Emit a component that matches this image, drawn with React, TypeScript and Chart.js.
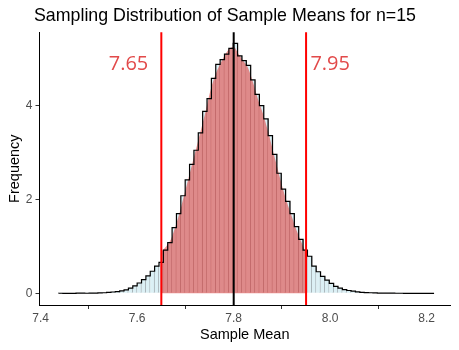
import React, { useEffect, useRef } from 'react';
import { Chart, registerables } from 'chart.js';

Chart.register(...registerables);

// ---- data ----
const titleText = 'Sampling Distribution of Sample Means for n=15';
const xAxisTitle = 'Sample Mean';
const yAxisTitle = 'Frequency';

const binStart = 7.437;
const binWidth = 0.00905;
const binHeights = [
  0.002, 0, 0, 0, 0.004, 0.004, 0.002, 0.004, 0.006, 0.008,
  0.012, 0.02, 0.028, 0.036, 0.05, 0.075, 0.11, 0.16, 0.22, 0.29,
  0.37, 0.47, 0.58, 0.66, 0.92, 1.08, 1.4, 1.7, 2.08, 2.42,
  2.75, 3.05, 3.42, 3.88, 4.15, 4.58, 4.88, 4.98, 5.1, 5.22,
  5.33, 5.06, 4.96, 4.86, 4.55, 4.24, 4.0, 3.72, 3.36, 2.96,
  2.56, 2.22, 1.96, 1.7, 1.42, 1.15, 0.92, 0.79, 0.58, 0.46,
  0.36, 0.28, 0.21, 0.15, 0.11, 0.08, 0.06, 0.045, 0.03, 0.022,
  0.016, 0.012, 0.008, 0.006, 0.006, 0.004, 0.004, 0.002, 0.002, 0,
  0, 0, 0, 0, 0, 0,
];

const densityX = [
  7.65, 7.66, 7.67, 7.68, 7.69, 7.7, 7.71, 7.72, 7.73, 7.74, 7.75,
  7.76, 7.77, 7.78, 7.79, 7.8, 7.81, 7.82, 7.83, 7.84, 7.85,
  7.86, 7.87, 7.88, 7.89, 7.9, 7.91, 7.92, 7.93, 7.94, 7.95,
];
const densityY = [
  0.89, 1.0, 1.15, 1.45, 1.8, 2.2, 2.6, 3.0, 3.4, 3.8, 4.25,
  4.6, 4.85, 5.05, 5.2, 5.25, 5.1, 4.95, 4.8, 4.5, 4.15,
  3.85, 3.5, 3.1, 2.7, 2.3, 1.95, 1.65, 1.35, 1.1, 0.86,
];

const cutoffs = [7.65, 7.95];
const meanValue = 7.8;
const cutoffLabels = ['7.65', '7.95'];
const labelX = [7.582, 8.0];
const labelY = 4.76;

const xTicks = [7.4, 7.6, 7.8, 8.0, 8.2];
const yTicks = [0, 2, 4];
const xMin = 7.3975;
const xMax = 8.2483;
const yMin = -0.249;
const yMax = 5.563;

const axisFont = 'Liberation Sans, Arial, sans-serif';

const overlayPlugin = {
  id: 'overlayLines',
  afterDatasetsDraw(chart: any) {
    const { ctx, chartArea, scales } = chart;
    const x = scales.x;
    const y = scales.y;
    ctx.save();
    ctx.lineWidth = 2;
    const drawV = (v: number, color: string) => {
      const px = x.getPixelForValue(v);
      ctx.strokeStyle = color;
      ctx.beginPath();
      ctx.moveTo(px, chartArea.top);
      ctx.lineTo(px, chartArea.bottom);
      ctx.stroke();
    };
    cutoffs.forEach((c) => drawV(c, '#ff0000'));
    drawV(meanValue, '#000000');
    ctx.fillStyle = '#e24a4a';
    ctx.font = '20px "Open Sans", sans-serif';
    ctx.textAlign = 'center';
    ctx.textBaseline = 'alphabetic';
    cutoffLabels.forEach((t, i) => {
      ctx.fillText(t, x.getPixelForValue(labelX[i]), y.getPixelForValue(labelY));
    });
    ctx.restore();
  },
};

export default function App() {
  const canvasRef = useRef<HTMLCanvasElement | null>(null);

  useEffect(() => {
    document.body.style.margin = '0';
    const canvas = canvasRef.current;
    if (!canvas) return;

    const bars = binHeights.map((h, i) => ({ x: binStart + binWidth * (i + 0.5), y: h }));
    // stepped outline: each point at a bin's left edge carries that bin's height
    const outline: { x: number; y: number }[] = [{ x: binStart, y: 0 }];
    binHeights.forEach((h, i) => outline.push({ x: binStart + binWidth * i, y: h }));
    outline.push({ x: binStart + binWidth * binHeights.length, y: binHeights[binHeights.length - 1] });
    outline.push({ x: binStart + binWidth * binHeights.length, y: 0 });
    const area = densityX.map((v, i) => ({ x: v, y: densityY[i] }));

    const chart = new Chart(canvas, {
      type: 'bar',
      data: {
        datasets: [
          {
            type: 'line',
            data: outline,
            borderColor: '#000000',
            borderWidth: 1.2,
            stepped: 'before',
            pointRadius: 0,
            fill: false,
            order: 1,
          } as any,
          {
            type: 'line',
            data: area,
            borderWidth: 0,
            borderColor: 'rgba(0,0,0,0)',
            backgroundColor: 'rgba(224,36,31,0.5)',
            fill: 'origin',
            pointRadius: 0,
            cubicInterpolationMode: 'monotone',
            order: 2,
          } as any,
          {
            type: 'bar',
            data: bars,
            backgroundColor: '#dcf0f5',
            borderColor: '#9aa3a8',
            borderWidth: { left: 0, right: 1, top: 0, bottom: 0 },
            barPercentage: 1,
            categoryPercentage: 1,
            grouped: false,
            order: 3,
          } as any,
        ],
      },
      options: {
        animation: false,
        responsive: false,
        maintainAspectRatio: false,
        layout: { padding: { left: 0, right: 9, top: 0, bottom: 0 } },
        plugins: {
          legend: { display: false },
          tooltip: { enabled: false },
          title: {
            display: true,
            text: titleText,
            color: '#000000',
            font: { family: axisFont, size: 17.8, weight: 'normal' },
            padding: { top: 5.5, bottom: 5.5 },
          },
        },
        scales: {
          x: {
            type: 'linear',
            min: xMin,
            max: xMax,
            offset: false,
            afterBuildTicks: (s: any) => {
              s.ticks = xTicks.map((v) => ({ value: v }));
            },
            afterFit: (s: any) => {
              s.height = 45;
            },
            ticks: {
              callback: (v: any) => Number(v).toFixed(1),
              color: '#4d4d4d',
              font: { family: axisFont, size: 12 },
              padding: 2,
              maxRotation: 0,
              autoSkip: false,
            },
            grid: { display: true, drawOnChartArea: false, drawTicks: true, tickLength: 4, color: '#333333' },
            border: { display: true, color: '#000000', width: 1 },
            title: {
              display: true,
              text: xAxisTitle,
              color: '#000000',
              font: { family: axisFont, size: 14.5 },
              padding: { top: 2, bottom: 6 },
            },
          },
          y: {
            type: 'linear',
            min: yMin,
            max: yMax,
            afterBuildTicks: (s: any) => {
              s.ticks = yTicks.map((v) => ({ value: v }));
            },
            afterFit: (s: any) => {
              s.width = 39.5;
            },
            ticks: {
              callback: (v: any) => String(v),
              color: '#4d4d4d',
              font: { family: axisFont, size: 12 },
              padding: 3,
            },
            grid: { display: true, drawOnChartArea: false, drawTicks: true, tickLength: 4, color: '#333333' },
            border: { display: true, color: '#000000', width: 1 },
            title: {
              display: true,
              text: yAxisTitle,
              color: '#000000',
              font: { family: axisFont, size: 14.5 },
              padding: { top: 6, bottom: 2 },
            },
          },
        },
      } as any,
      plugins: [overlayPlugin],
    });

    return () => {
      chart.destroy();
    };
  }, []);

  return (
    <div style={{ width: 459, height: 350 }}>
      <canvas ref={canvasRef} width={459} height={350} style={{ display: 'block' }} />
    </div>
  );
}
